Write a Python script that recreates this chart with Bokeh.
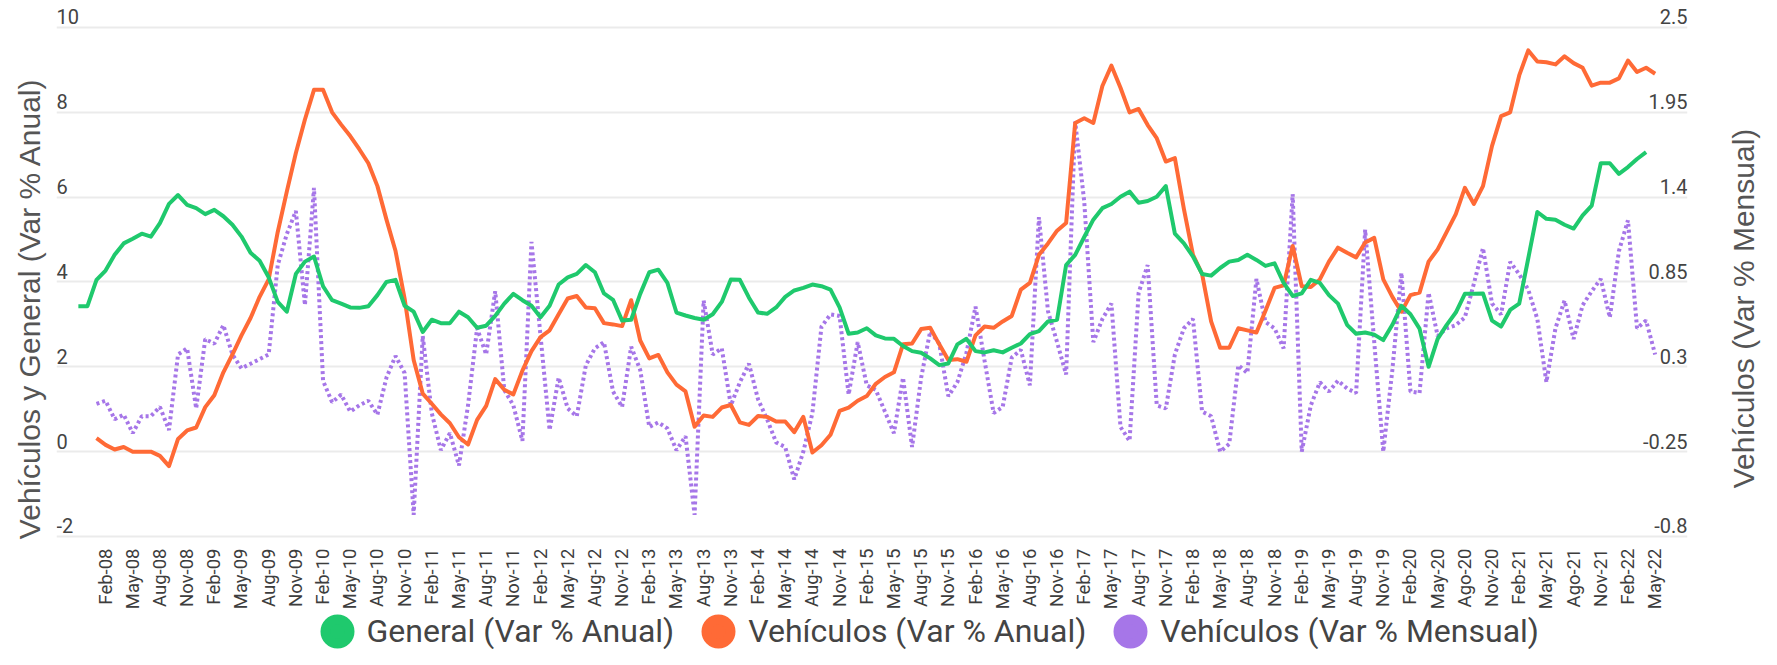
import math
from bokeh.plotting import figure
from bokeh.layouts import column, row
from bokeh.models import Range1d, LinearAxis, FixedTicker, Legend, LegendItem
from bokeh.core.properties import value
from bokeh.embed import file_html
from bokeh.resources import INLINE

# ---------------- data ----------------
# month index: 0 = Jan-08
x_tick_labels = [
    "Feb-08", "May-08", "Aug-08", "Nov-08", "Feb-09", "May-09", "Aug-09", "Nov-09",
    "Feb-10", "May-10", "Aug-10", "Nov-10", "Feb-11", "May-11", "Aug-11", "Nov-11",
    "Feb-12", "May-12", "Aug-12", "Nov-12", "Feb-13", "May-13", "Aug-13", "Nov-13",
    "Feb-14", "May-14", "Aug-14", "Nov-14", "Feb-15", "May-15", "Aug-15", "Nov-15",
    "Feb-16", "May-16", "Aug-16", "Nov-16", "Feb-17", "May-17", "Aug-17", "Nov-17",
    "Feb-18", "May-18", "Aug-18", "Nov-18", "Feb-19", "May-19", "Aug-19", "Nov-19",
    "Feb-20", "May-20", "Ago-20", "Nov-20", "Feb-21", "May-21", "Ago-21", "Nov-21",
    "Feb-22", "May-22",
]
x_ticks = list(range(1, 173, 3))

left_ticks = [-2, 0, 2, 4, 6, 8, 10]
left_tick_labels = ["-2", "0", "2", "4", "6", "8", "10"]
right_ticks = [-0.8, -0.25, 0.3, 0.85, 1.4, 1.95, 2.5]
right_tick_labels = ["-0.8", "-0.25", "0.3", "0.85", "1.4", "1.95", "2.5"]

# General (Var % Anual): Nov-07 .. Apr-22
general_x = list(range(-2, 172))
general = [
    3.43, 3.43,
    4.05, 4.27, 4.64, 4.91, 5.02, 5.14, 5.07, 5.39, 5.84, 6.05, 5.82, 5.74,
    5.60, 5.70, 5.55, 5.35, 5.07, 4.69, 4.50, 4.11, 3.53, 3.30, 4.19, 4.48,
    4.60, 3.90, 3.57, 3.49, 3.40, 3.39, 3.43, 3.69, 4.00, 4.05, 3.44, 3.30,
    2.82, 3.11, 3.03, 3.03, 3.30, 3.17, 2.92, 2.97, 3.20, 3.49, 3.72, 3.57,
    3.44, 3.17, 3.44, 3.94, 4.11, 4.19, 4.40, 4.23, 3.73, 3.58, 3.09, 3.11,
    3.72, 4.23, 4.29, 3.98, 3.28, 3.21, 3.15, 3.11, 3.24, 3.53, 4.06, 4.05,
    3.63, 3.28, 3.25, 3.40, 3.65, 3.80, 3.86, 3.94, 3.90, 3.82, 3.40, 2.78,
    2.81, 2.91, 2.74, 2.67, 2.66, 2.49, 2.37, 2.33, 2.20, 2.04, 2.08, 2.53,
    2.66, 2.37, 2.34, 2.39, 2.34, 2.45, 2.55, 2.77, 2.84, 3.07, 3.11, 4.40,
    4.64, 5.06, 5.47, 5.74, 5.84, 6.01, 6.13, 5.87, 5.91, 6.01, 6.26, 5.14,
    4.91, 4.60, 4.19, 4.15, 4.33, 4.48, 4.52, 4.64, 4.52, 4.38, 4.44, 3.98,
    3.67, 3.73, 4.05, 3.98, 3.69, 3.49, 2.99, 2.78, 2.81, 2.76, 2.63, 2.99,
    3.44, 3.24, 2.90, 2.00, 2.66, 2.99, 3.28, 3.72, 3.72, 3.73, 3.09, 2.95,
    3.34, 3.49, 4.56, 5.65, 5.49, 5.47, 5.35, 5.26, 5.57, 5.80, 6.80, 6.80,
    6.55, 6.71, 6.90, 7.06,
]

# Vehiculos (Var % Anual): Jan-08 .. May-22
vehic_x = list(range(0, 173))
vehic_anual = [
    0.32, 0.16, 0.05, 0.11, 0.00, 0.00, 0.00, -0.10, -0.34, 0.30, 0.50, 0.57,
    1.05, 1.33, 1.87, 2.29, 2.74, 3.15, 3.65, 4.06, 5.18, 6.13, 7.04, 7.83,
    8.53, 8.53, 8.00, 7.71, 7.44, 7.13, 6.80, 6.26, 5.47, 4.73, 3.61, 2.16,
    1.37, 1.13, 0.88, 0.67, 0.34, 0.17, 0.75, 1.08, 1.71, 1.46, 1.35, 1.91,
    2.37, 2.70, 2.86, 3.24, 3.61, 3.67, 3.40, 3.38, 3.03, 3.00, 2.96, 3.57,
    2.62, 2.20, 2.28, 1.87, 1.58, 1.42, 0.59, 0.85, 0.82, 1.04, 1.10, 0.69,
    0.63, 0.84, 0.82, 0.71, 0.71, 0.46, 0.82, -0.02, 0.15, 0.40, 0.96, 1.04,
    1.20, 1.31, 1.60, 1.76, 1.87, 2.53, 2.55, 2.89, 2.92, 2.53, 2.16, 2.18,
    2.12, 2.74, 2.95, 2.92, 3.07, 3.20, 3.82, 3.98, 4.64, 4.91, 5.21, 5.39,
    7.75, 7.86, 7.75, 8.62, 9.10, 8.58, 8.00, 8.08, 7.70, 7.39, 6.84, 6.92,
    5.72, 4.64, 4.19, 3.07, 2.45, 2.45, 2.91, 2.86, 2.81, 3.32, 3.86, 3.92,
    4.85, 3.90, 3.88, 4.06, 4.48, 4.81, 4.69, 4.58, 4.93, 5.04, 4.06, 3.65,
    3.30, 3.69, 3.75, 4.48, 4.77, 5.18, 5.60, 6.22, 5.84, 6.26, 7.21, 7.91,
    8.00, 8.87, 9.46, 9.20, 9.18, 9.13, 9.32, 9.16, 9.05, 8.63, 8.70, 8.70,
    8.80, 9.22, 8.95, 9.05, 8.91,
]

# Vehiculos (Var % Mensual): Jan-08 .. May-22 (right axis)
vehic_mensual = [
    0.06, 0.08, -0.04, -0.01, -0.13, -0.02, -0.02, 0.04, -0.11, 0.38, 0.42, 0.03,
    0.48, 0.45, 0.57, 0.38, 0.29, 0.32, 0.35, 0.38, 0.96, 1.16, 1.31, 0.70,
    1.46, 0.21, 0.07, 0.12, 0.01, 0.05, 0.08, -0.01, 0.23, 0.37, 0.26, -0.66,
    0.50, 0.00, -0.24, -0.13, -0.34, 0.05, 0.55, 0.38, 0.79, 0.15, 0.05, -0.18,
    1.11, 0.50, -0.11, 0.23, 0.03, -0.02, 0.31, 0.42, 0.46, 0.14, 0.04, 0.43,
    0.28, -0.09, -0.06, -0.10, -0.24, -0.15, -0.66, 0.73, 0.38, 0.42, 0.05, 0.20,
    0.32, 0.09, -0.04, -0.19, -0.22, -0.43, -0.25, 0.00, 0.56, 0.64, 0.63, 0.12,
    0.46, 0.18, 0.15, 0.01, -0.13, 0.23, -0.22, 0.23, 0.53, 0.45, 0.11, 0.20,
    0.39, 0.69, 0.34, 0.00, 0.04, 0.36, 0.41, 0.18, 1.27, 0.66, 0.46, 0.25,
    1.89, 1.37, 0.46, 0.61, 0.71, -0.09, -0.18, 0.78, 0.96, 0.05, 0.03, 0.38,
    0.55, 0.61, 0.01, -0.02, -0.25, -0.20, 0.31, 0.26, 0.87, 0.59, 0.55, 0.42,
    1.42, -0.25, 0.05, 0.20, 0.14, 0.21, 0.16, 0.13, 1.19, 0.46, -0.25, 0.28,
    0.91, 0.14, 0.13, 0.78, 0.50, 0.55, 0.57, 0.62, 0.84, 1.07, 0.71, 0.64,
    0.98, 0.90, 0.80, 0.61, 0.20, 0.55, 0.73, 0.48, 0.70, 0.79, 0.87, 0.62,
    1.05, 1.25, 0.55, 0.60, 0.38,
]

series_names = ["General (Var % Anual)", "Vehículos (Var % Anual)", "Vehículos (Var % Mensual)"]
colors = ["#1fc96d", "#ff6a36", "#a676e8"]
left_title = "Vehículos y General (Var % Anual)"
right_title = "Vehículos (Var % Mensual)"

# ---------------- figure ----------------
X0, X1 = -4.414, 175.57
Y0, Y1 = -3.792, 10.542
k = (right_ticks[-1] - right_ticks[0]) / (left_ticks[-1] - left_ticks[0])
R0 = right_ticks[0] + (Y0 - left_ticks[0]) * k
R1 = right_ticks[0] + (Y1 - left_ticks[0]) * k

TICK_FONT = "Roboto"
TICK_COLOR = "#444444"
TITLE_COLOR = "#555555"
W = 1761
RT_W = 68           # strip holding the right-hand title
MAIN_W = W - RT_W
MAIN_H = 612
LEG_H = 37

p = figure(width=MAIN_W, height=MAIN_H, output_backend="svg", toolbar_location=None,
           x_range=Range1d(X0, X1), y_range=Range1d(Y0, Y1),
           min_border_left=56, min_border_right=6, min_border_top=4, min_border_bottom=0,
           x_axis_location=None, y_axis_location=None)
p.extra_y_ranges = {"right": Range1d(R0, R1)}
p.outline_line_color = None

# horizontal grid
p.ygrid.ticker = FixedTicker(ticks=left_ticks)
p.ygrid.grid_line_color = "#ebebeb"
p.ygrid.grid_line_width = 2
p.xgrid.visible = False

# left axis: title only
la = LinearAxis(ticker=FixedTicker(ticks=[]))
la.axis_label = left_title
la.axis_label_text_font = "Liberation Sans"
la.axis_label_text_font_size = "30px"
la.axis_label_text_font_style = "normal"
la.axis_label_text_color = TITLE_COLOR
la.axis_label_standoff = 11
la.axis_line_color = None
la.major_tick_line_color = None
la.minor_tick_line_color = None
la.major_tick_out = 0
la.minor_tick_out = 0
p.add_layout(la, "left")

# tick labels (drawn just above the grid lines, inside the frame)
p.text(x=[X0] * len(left_ticks), y=left_ticks, text=left_tick_labels,
       text_align="left", text_baseline="bottom", y_offset=-3,
       text_font=value(TICK_FONT), text_font_size="20px", text_color=TICK_COLOR)
p.text(x=[X1] * len(right_ticks), y=right_ticks, text=right_tick_labels,
       y_range_name="right", text_align="right", text_baseline="bottom", y_offset=-3,
       text_font=value(TICK_FONT), text_font_size="20px", text_color=TICK_COLOR)
p.text(x=x_ticks, y=[left_ticks[0]] * len(x_ticks), text=x_tick_labels,
       angle=math.pi / 2, text_align="right", text_baseline="middle", y_offset=12,
       text_font=value(TICK_FONT), text_font_size="18.5px", text_color="#3d3d3d")

# series
p.line(vehic_x, vehic_mensual, y_range_name="right", line_color=colors[2],
       line_width=4, line_dash="3 3", line_cap="butt")
p.line(vehic_x, vehic_anual, line_color=colors[1], line_width=4, line_join="round")
p.line(general_x, general, line_color=colors[0], line_width=4, line_join="round")

# right-hand title strip (same vertical range as the chart)
rt = figure(width=RT_W, height=MAIN_H, output_backend="svg", toolbar_location=None,
            x_range=Range1d(0, RT_W), y_range=p.y_range,
            x_axis_location=None, y_axis_location=None,
            min_border_left=0, min_border_right=0, min_border_top=4, min_border_bottom=0)
rt.outline_line_color = None
rt.xgrid.visible = False
rt.ygrid.visible = False
rt.text(x=[50], y=[(Y0 + Y1) / 2], text=[right_title], angle=math.pi / 2,
        text_align="center", text_baseline="middle",
        text_font=value("Liberation Sans"), text_font_size="30px", text_color=TITLE_COLOR)

# legend strip below the chart
GLYPH = 60
leg = figure(width=W, height=LEG_H, output_backend="svg", toolbar_location=None,
             x_range=Range1d(0, 1), y_range=Range1d(0, 1),
             x_axis_location=None, y_axis_location=None, min_border=0)
leg.outline_line_color = None
leg.xgrid.visible = False
leg.ygrid.visible = False
items = []
for name, c in zip(series_names, colors):
    r = leg.scatter(x=[float("nan")], y=[float("nan")], marker="circle", size=10,
                    fill_color=c, line_color=c, line_width=10)
    items.append(LegendItem(label=name, renderers=[r], index=0))
legend = Legend(items=items, location=(306.5, (LEG_H - GLYPH) / 2), orientation="horizontal",
                glyph_width=GLYPH, glyph_height=GLYPH, label_standoff=0, spacing=14,
                padding=0, margin=0, border_line_color=None, background_fill_alpha=0,
                label_text_font=TICK_FONT, label_text_font_size="32px",
                label_text_color=TICK_COLOR)
leg.add_layout(legend)

layout = column(row(p, rt, spacing=0), leg, spacing=0)
open("out.html", "w").write(file_html(layout, INLINE))
